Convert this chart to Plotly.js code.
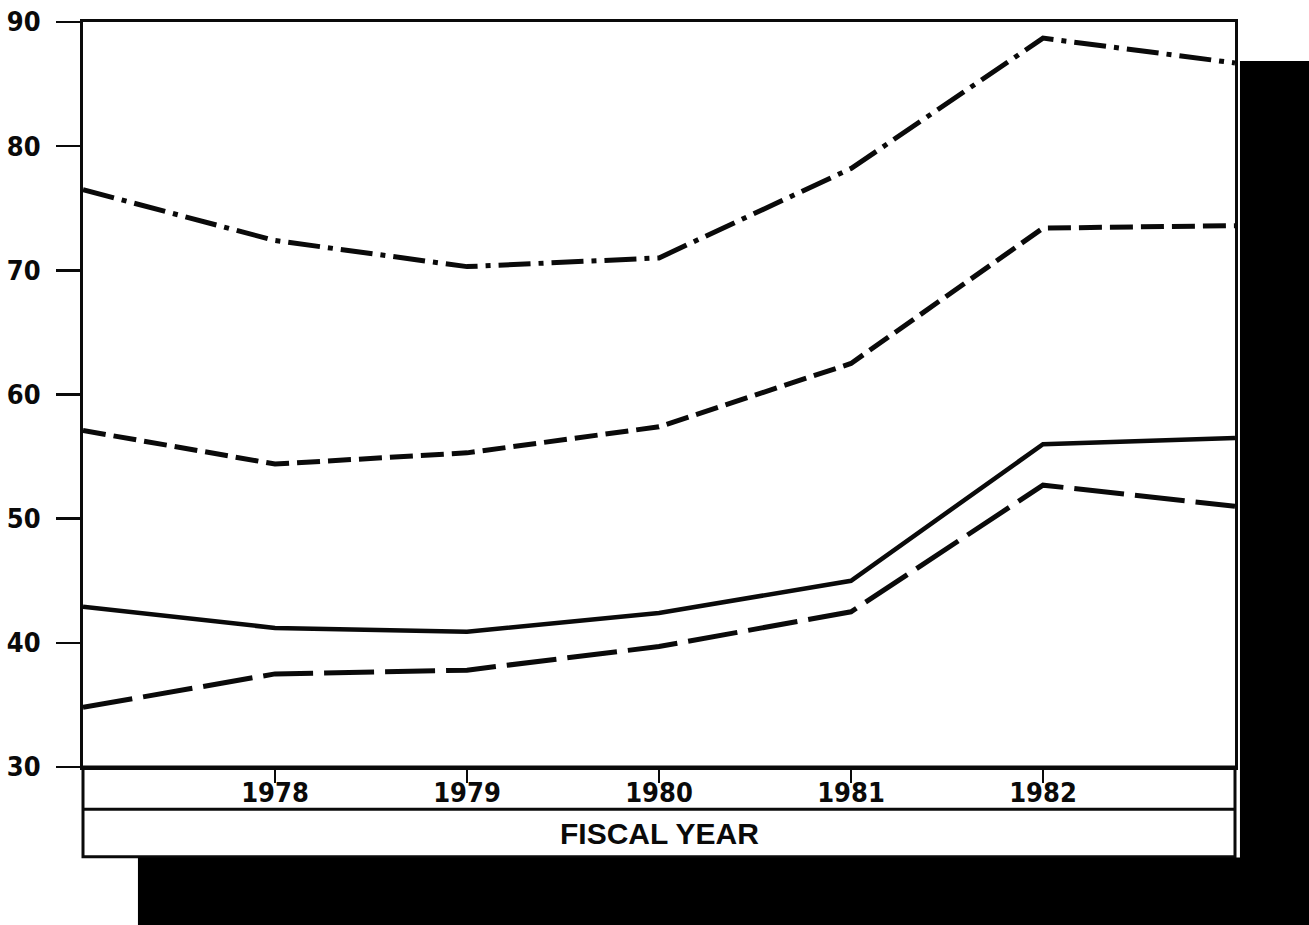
<!DOCTYPE html>
<html><head><meta charset="utf-8">
<script src="https://cdn.plot.ly/plotly-3.0.1.min.js"></script>
<style>html,body{margin:0;padding:0;background:#fff;}#chart{width:1309px;height:925px;}</style>
</head><body><div id="chart"></div>
<script>
const years = [1977, 1978, 1979, 1980, 1981, 1982, 1983];
const tickYears = [1978, 1979, 1980, 1981, 1982];
const tickLabels = ['1978', '1979', '1980', '1981', '1982'];
const yTicks = [30, 40, 50, 60, 70, 80, 90];
const yTickLabels = ['30', '40', '50', '60', '70', '80', '90'];
const seriesDashDot = [76.5, 72.4, 70.3, 71.0, 78.2, 88.7, 86.7];
const seriesDashed = [57.1, 54.4, 55.3, 57.4, 62.5, 73.4, 73.6];
const seriesSolid = [42.9, 41.2, 40.9, 42.4, 45.0, 56.0, 56.5];
const seriesLongDash = [34.8, 37.5, 37.8, 39.7, 42.5, 52.7, 51.0];
const xAxisTitle = 'FISCAL YEAR';

const FONT = '"DejaVu Sans Condensed", "Liberation Sans Narrow", "Arial Narrow", "Liberation Sans", sans-serif';
const INK = '#0a0a0a';

function line(y, dash, width, name) {
  return {
    x: years, y: y, type: 'scatter', mode: 'lines', name: name,
    line: {color: INK, width: width, dash: dash},
    showlegend: false, hoverinfo: 'x+y'
  };
}

const data = [
  line(seriesDashDot, '32px,8px,5px,8px', 5, 'Series 1'),
  line(seriesDashed, '23px,8px', 5, 'Series 2'),
  line(seriesSolid, 'solid', 4.5, 'Series 3'),
  line(seriesLongDash, '50px,11px', 5, 'Series 4')
];

const layout = {
  width: 1309, height: 925,
  margin: {l: 83, r: 74, t: 22, b: 158, pad: 0},
  paper_bgcolor: '#ffffff', plot_bgcolor: '#ffffff',
  showlegend: false,
  xaxis: {
    range: [1977, 1983], showgrid: false, zeroline: false,
    showline: true, linecolor: INK, linewidth: 3, mirror: true,
    ticks: 'outside', ticklen: 13, tickwidth: 2.5, tickcolor: INK,
    tickvals: tickYears, ticktext: tickLabels,
    tickfont: {family: FONT, size: 27, color: INK, weight: 700},
    ticklabelstandoff: -13
  },
  yaxis: {
    range: [30, 90], showgrid: false, zeroline: false,
    showline: true, linecolor: INK, linewidth: 3, mirror: true,
    ticks: 'outside', ticklen: 24, tickwidth: 2.5, tickcolor: INK,
    tickvals: yTicks, ticktext: yTickLabels,
    tickfont: {family: FONT, size: 27, color: INK, weight: 700},
    ticklabelstandoff: 10
  },
  shapes: [
    {type: 'rect', xref: 'paper', yref: 'paper', x0: 0, x1: 1, y0: -0.1205, y1: 0,
     line: {color: INK, width: 3}, fillcolor: 'rgba(0,0,0,0)', layer: 'above'},
    {type: 'line', xref: 'paper', yref: 'paper', x0: 0, x1: 1, y0: -0.0568, y1: -0.0568,
     line: {color: INK, width: 3}, layer: 'above'},
    {type: 'rect', xref: 'paper', yref: 'paper', x0: 1.0043, x1: 1.08, y0: -0.23, y1: 0.9476,
     line: {width: 0}, fillcolor: '#000000', layer: 'above'},
    {type: 'rect', xref: 'paper', yref: 'paper', x0: 0.0477, x1: 1.08, y0: -0.23, y1: -0.1214,
     line: {width: 0}, fillcolor: '#000000', layer: 'above'}
  ],
  annotations: [
    {text: xAxisTitle, xref: 'paper', yref: 'paper', x: 0.5, y: -0.089,
     xanchor: 'center', yanchor: 'middle', showarrow: false,
     font: {family: '"Liberation Sans", Arial, sans-serif', size: 30, color: INK, weight: 700}}
  ]
};

Plotly.newPlot('chart', data, layout, {displayModeBar: false, staticPlot: true});
</script>
</body></html>
